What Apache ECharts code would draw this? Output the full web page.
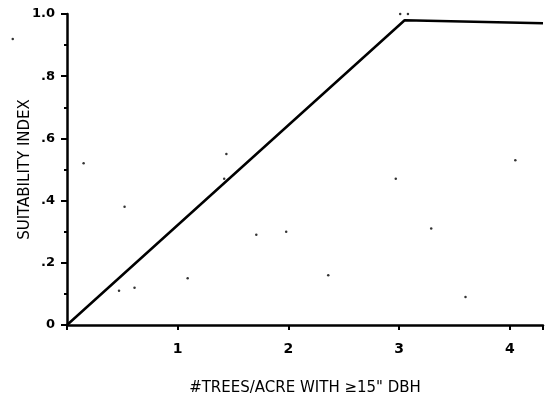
<!DOCTYPE html>
<html><head><meta charset="utf-8">
<script src="https://cdn.jsdelivr.net/npm/echarts@6/dist/echarts.min.js"></script>
<style>html,body{margin:0;padding:0;background:#fff}#c{width:546px;height:412px}</style>
</head><body><div id="c"></div>
<script>
const lineX = [0, 3.05, 4.3];
const lineY = [0, 0.98, 0.97];
const yTickLabels = {0:'0', 0.2:'.2', 0.4:'.4', 0.6:'.6', 0.8:'.8', 1:'1.0'};
const xTickLabels = {1:'1', 2:'2', 3:'3', 4:'4'};
const speckX = [-0.49, 0.15, 0.52, 0.47, 0.61, 1.42, 1.44, 1.71, 1.98, 2.36, 2.97, 3.29, 3.6, 4.05, 3.01, 3.08, 1.09];
const speckY = [0.92, 0.52, 0.38, 0.11, 0.12, 0.47, 0.55, 0.29, 0.30, 0.16, 0.47, 0.31, 0.09, 0.53, 1.0, 1.0, 0.15];

const chart = echarts.init(document.getElementById('c'));
const font = 'DejaVu Sans';
chart.setOption({
  animation: false,
  grid: {left: 67, right: 0, top: 14, bottom: 87},
  xAxis: {
    type: 'value', min: 0, max: 4.3, interval: 1,
    axisLine: {lineStyle: {color: '#000', width: 2.5}},
    axisTick: {show: true, length: 5, lineStyle: {color: '#000', width: 2}, inside: false},
    splitLine: {show: false},
    axisLabel: {color: '#000', fontFamily: font, fontWeight: 'bold', fontSize: 14, margin: 17,
      formatter: v => xTickLabels[v] || ''},
    name: '#TREES/ACRE WITH \u226515" DBH', nameLocation: 'middle', nameGap: 56,
    nameMoveOverlap: false,
    nameTextStyle: {color: '#000', fontFamily: font, fontSize: 15}
  },
  yAxis: {
    type: 'value', min: 0, max: 1, interval: 0.2,
    axisLine: {show: true, lineStyle: {color: '#000', width: 2.5}},
    axisTick: {show: true, length: 6, lineStyle: {color: '#000', width: 2}},
    minorTick: {show: true, splitNumber: 2, length: 3, lineStyle: {color: '#000', width: 2}},
    splitLine: {show: false},
    axisLabel: {color: '#000', fontFamily: font, fontWeight: 'bold', fontSize: 13, margin: 12,
      formatter: v => yTickLabels[Math.round(v*10)/10] ?? ''},
    name: 'SUITABILITY INDEX', nameLocation: 'middle', nameGap: 34, nameRotate: 90,
    nameMoveOverlap: false,
    nameTextStyle: {color: '#000', fontFamily: font, fontSize: 15}
  },
  series: [
    {type: 'line', data: lineX.map((x, i) => [x, lineY[i]]), symbol: 'none',
      lineStyle: {color: '#000', width: 2.5}, clip: false},
    {type: 'scatter', data: speckX.map((x, i) => [x, speckY[i]]), symbolSize: 2.5,
      itemStyle: {color: '#000'}, clip: false}
  ]
});
</script></body></html>
